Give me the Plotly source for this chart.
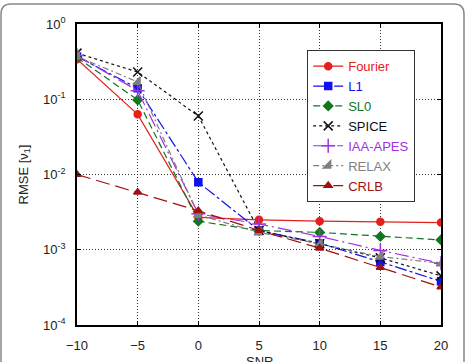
import plotly.graph_objects as go

snr = [-10, -5, 0, 5, 10, 15, 20]
fourier = [0.34, 0.063, 0.0027, 0.0025, 0.0024, 0.00235, 0.0023]
l1 = [0.37, 0.14, 0.0079, 0.0018, 0.00122, 0.00069, 0.00038]
sl0 = [0.36, 0.098, 0.0024, 0.0018, 0.0017, 0.0015, 0.00135]
spice = [0.41, 0.23, 0.06, 0.0018, 0.0012, 0.00078, 0.00045]
iaa = [0.38, 0.13, 0.003, 0.0022, 0.0015, 0.00098, 0.00066]
relax = [0.37, 0.17, 0.0029, 0.0017, 0.0012, 0.00081, 0.00066]
crlb = [0.01, 0.0058, 0.0033, 0.0018, 0.00105, 0.00058, 0.00032]

ytick_vals = [1e-4, 1e-3, 1e-2, 1e-1, 1]
ytick_text = ["10<sup>-4</sup>", "10<sup>-3</sup>", "10<sup>-2</sup>", "10<sup>-1</sup>", "10<sup>0</sup>"]
xtick_vals = [-10, -5, 0, 5, 10, 15, 20]

series = [
    ("Fourier", fourier, "#e3201b", "solid", "circle", 7),
    ("L1", l1, "#1010f0", "12px,3px,3px,3px", "square", 7),
    ("SL0", sl0, "#11771f", "7px,4px", "diamond", 7),
    ("SPICE", spice, "#111111", "3px,3px", "x-thin-open", 9),
    ("IAA-APES", iaa, "#a030e0", "14px,4px,2px,4px", "cross-thin-open", 10),
    ("RELAX", relax, "#7f7f7f", "6px,3px,2px,3px", "triangle-se", 8),
    ("CRLB", crlb, "#a01010", "14px,6px", "triangle-up", 7),
]

FONT = "Liberation Sans, Arial"

fig = go.Figure()
for name, ys, col, dash, sym, sz in series:
    fig.add_trace(go.Scatter(
        x=snr, y=ys, name=f"<span style='color:{col}'>{name}</span>", mode="lines+markers",
        line=dict(color=col, width=1.2, dash=dash),
        marker=dict(symbol=sym, size=sz, color=col, line=dict(color=col, width=1.5)),
    ))

axis_common = dict(
    showline=True, linecolor="black", linewidth=1.5, mirror="ticks",
    ticks="inside", ticklen=4, tickcolor="black",
    showgrid=True, gridcolor="#333", griddash="1px,2px", gridwidth=1,
    zeroline=False, tickfont=dict(family=FONT, size=13, color="#222"),
    automargin=False,
)

fig.update_xaxes(range=[-10, 20], tickvals=xtick_vals, ticklabelstandoff=8, **axis_common)
fig.update_yaxes(type="log", range=[-4, 0], tickvals=ytick_vals, ticktext=ytick_text, ticklabelstandoff=7,
                 title=dict(text="RMSE [ν<sub>1</sub>]", standoff=12, font=dict(family=FONT, size=13, color="#222")),
                 **axis_common)

W, H = 465, 362
l, r, t, b = 77, 24, 24, 37
pw, ph = W - l - r, H - t - b
def px(xp): return (xp - l) / pw
def py(yp): return (H - b - yp) / ph
rad = 10
x0, y0, x1, y1 = 1, 4, 464, 380
path = (f"M {px(x0)},{py(y1)} L {px(x0)},{py(y0+rad)} "
        f"Q {px(x0)},{py(y0)} {px(x0+rad)},{py(y0)} "
        f"L {px(x1-rad)},{py(y0)} Q {px(x1)},{py(y0)} {px(x1)},{py(y0+rad)} "
        f"L {px(x1)},{py(y1)}")

fig.update_layout(
    width=W, height=H,
    margin=dict(l=l, r=r, t=t, b=b),
    paper_bgcolor="white", plot_bgcolor="white",
    font=dict(family=FONT, size=13, color="#222"),
    legend=dict(
        x=px(307), y=py(50), xanchor="left", yanchor="top",
        bgcolor="white", bordercolor="#333", borderwidth=1.2,
        font=dict(family=FONT, size=13),
        tracegroupgap=0, itemwidth=30,
    ),
    showlegend=True,
    shapes=[dict(type="path", xref="paper", yref="paper", path=path,
                 line=dict(color="#888", width=1.5), layer="above")],
    annotations=[dict(text="SNR", xref="paper", yref="paper", x=0.5, y=py(352),
                      xanchor="center", yanchor="top", showarrow=False,
                      font=dict(family=FONT, size=13, color="#222"))],
)

fig.write_html("out.html")
